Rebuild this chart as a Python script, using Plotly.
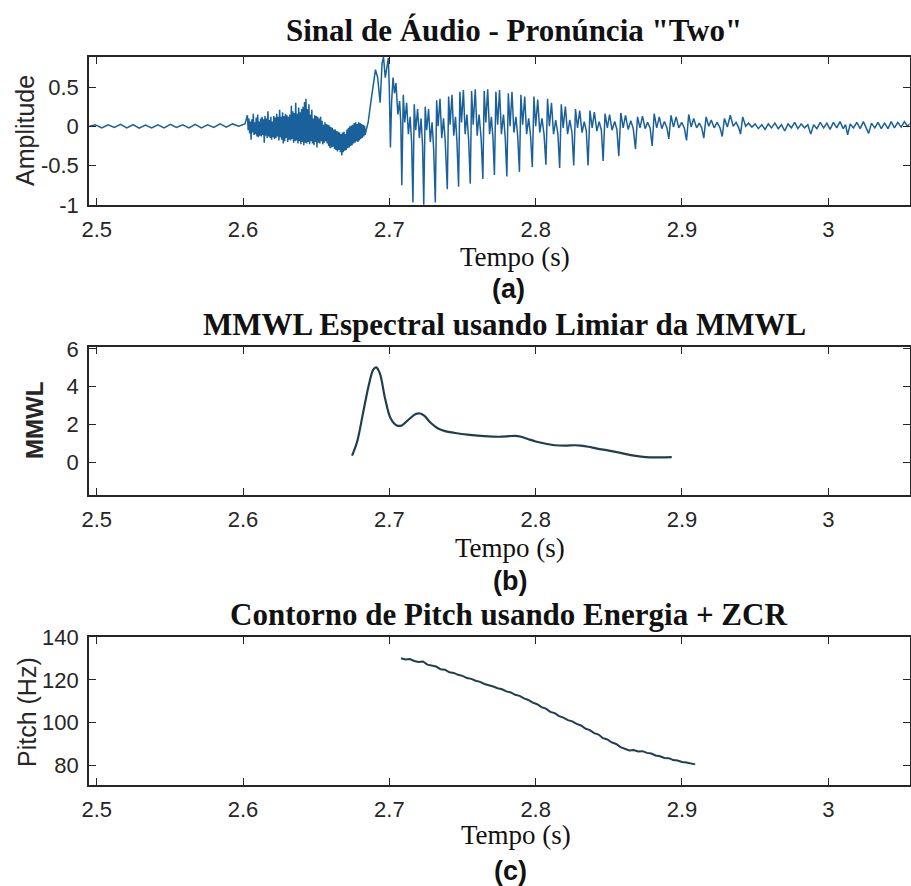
import plotly.graph_objects as go

# ---------------------------------------------------------------------------
# (a) Audio signal, vertices of the waveform (time in s, normalised amplitude)
# ---------------------------------------------------------------------------
pre_t = [2.4950, 2.4990, 2.5035, 2.5078, 2.5120, 2.5163, 2.5205, 2.5248, 2.5290,
         2.5333, 2.5375, 2.5418, 2.5460, 2.5503, 2.5545, 2.5588, 2.5630, 2.5673,
         2.5715, 2.5758, 2.5800, 2.5843, 2.5885, 2.5928, 2.5970, 2.6013]
pre_a = [0.00, 0.02, -0.02, 0.02, -0.015, 0.025, -0.02, 0.02, -0.025,
         0.015, -0.02, 0.02, -0.02, 0.025, -0.015, 0.02, -0.02, 0.025,
         -0.02, 0.02, -0.015, 0.03, -0.01, 0.03, 0.00, 0.03]

# unvoiced burst of "t": dense noise between 2.603 s and 2.684 s
burst_t = [2.6030, 2.6035, 2.6040, 2.6045, 2.6050, 2.6055, 2.6060, 2.6065, 2.6070, 2.6075,
           2.6080, 2.6085, 2.6090, 2.6095, 2.6100, 2.6105, 2.6110, 2.6115, 2.6120, 2.6125,
           2.6130, 2.6135, 2.6140, 2.6145, 2.6150, 2.6155, 2.6160, 2.6165, 2.6170, 2.6175,
           2.6180, 2.6185, 2.6190, 2.6195, 2.6200, 2.6205, 2.6210, 2.6215, 2.6220, 2.6225,
           2.6230, 2.6235, 2.6240, 2.6245, 2.6250, 2.6255, 2.6260, 2.6265, 2.6270, 2.6275,
           2.6280, 2.6285, 2.6290, 2.6295, 2.6300, 2.6305, 2.6310, 2.6315, 2.6320, 2.6325,
           2.6330, 2.6335, 2.6340, 2.6345, 2.6350, 2.6355, 2.6360, 2.6365, 2.6370, 2.6375,
           2.6380, 2.6385, 2.6390, 2.6395, 2.6400, 2.6405, 2.6410, 2.6415, 2.6420, 2.6425,
           2.6430, 2.6435, 2.6440, 2.6445, 2.6450, 2.6455, 2.6460, 2.6465, 2.6470, 2.6475,
           2.6480, 2.6485, 2.6490, 2.6495, 2.6500, 2.6505, 2.6510, 2.6515, 2.6520, 2.6525,
           2.6530, 2.6535, 2.6540, 2.6545, 2.6550, 2.6555, 2.6560, 2.6565, 2.6570, 2.6575,
           2.6580, 2.6585, 2.6590, 2.6595, 2.6600, 2.6605, 2.6610, 2.6615, 2.6620, 2.6625,
           2.6630, 2.6635, 2.6640, 2.6645, 2.6650, 2.6655, 2.6660, 2.6665, 2.6670, 2.6675,
           2.6680, 2.6685, 2.6690, 2.6695, 2.6700, 2.6705, 2.6710, 2.6715, 2.6720, 2.6725,
           2.6730, 2.6735, 2.6740, 2.6745, 2.6750, 2.6755, 2.6760, 2.6765, 2.6770, 2.6775,
           2.6780, 2.6785, 2.6790, 2.6795, 2.6800, 2.6805, 2.6810, 2.6815, 2.6820, 2.6825,
           2.6830, 2.6835, 2.6840]
burst_a = [0.14, -0.05, 0.10, -0.09, 0.06, -0.17, 0.09, -0.08, 0.16, -0.11,
           0.05, -0.10, 0.11, -0.13, 0.15, -0.14, 0.06, -0.12, 0.10, -0.13,
           0.12, -0.11, 0.09, -0.21, 0.13, -0.12, 0.10, -0.15, 0.19, -0.13,
           0.08, -0.15, 0.12, -0.17, 0.06, -0.14, 0.13, -0.16, 0.11, -0.15,
           0.16, -0.13, 0.12, -0.18, 0.21, -0.14, 0.12, -0.17, 0.18, -0.22,
           0.13, -0.19, 0.16, -0.15, 0.14, -0.20, 0.12, -0.17, 0.15, -0.18,
           0.26, -0.16, 0.19, -0.21, 0.17, -0.19, 0.30, -0.18, 0.16, -0.22,
           0.24, -0.19, 0.18, -0.23, 0.22, -0.20, 0.25, -0.24, 0.31, -0.21,
           0.35, -0.22, 0.22, -0.20, 0.28, -0.23, 0.15, -0.19, 0.21, -0.22,
           0.10, -0.24, 0.14, -0.20, 0.13, -0.27, 0.12, -0.21, 0.10, -0.22,
           0.12, -0.19, 0.07, -0.23, 0.02, -0.21, 0.05, -0.19, 0.03, -0.22,
           0.02, -0.25, 0.01, -0.28, -0.01, -0.27, -0.02, -0.26, -0.04, -0.29,
           -0.04, -0.30, -0.06, -0.32, -0.07, -0.30, -0.08, -0.33, -0.10, -0.37,
           -0.08, -0.33, -0.07, -0.31, -0.10, -0.30, -0.04, -0.28, -0.02, -0.27,
           0.00, -0.25, 0.01, -0.24, 0.02, -0.22, 0.04, -0.21, 0.05, -0.19,
           0.03, -0.20, 0.05, -0.18, 0.04, -0.16, 0.03, -0.15, 0.02, -0.13,
           0.01, -0.11, -0.06]

# voiced part: glottal periods (deep negative spike, two positive peaks)
voiced_t = [2.6855, 2.6875, 2.6890, 2.6905, 2.6920, 2.6937, 2.6950, 2.6960, 2.6972,
            2.6982, 2.6993, 2.7000,
            2.7007, 2.7015, 2.7025, 2.7035, 2.7045, 2.7058, 2.7070, 2.7078,
            2.7085, 2.7095, 2.7105, 2.7118, 2.7130, 2.7142, 2.7152,
            2.7161, 2.7170, 2.7180, 2.7193, 2.7205, 2.7217, 2.7227,
            2.7235, 2.7245, 2.7255, 2.7268, 2.7280, 2.7292, 2.7303,
            2.7314, 2.7323, 2.7333, 2.7346, 2.7358, 2.7370, 2.7382,
            2.7396, 2.7405, 2.7415, 2.7428, 2.7440, 2.7452, 2.7462,
            2.7473, 2.7482, 2.7493, 2.7506, 2.7518, 2.7530, 2.7542,
            2.7553, 2.7562, 2.7573, 2.7587, 2.7600, 2.7613, 2.7627,
            2.7639, 2.7648, 2.7659, 2.7672, 2.7685, 2.7697, 2.7708,
            2.7718, 2.7728, 2.7740, 2.7753, 2.7766, 2.7780, 2.7792,
            2.7803, 2.7813, 2.7825, 2.7838, 2.7851, 2.7865, 2.7877,
            2.7889, 2.7899, 2.7911, 2.7925, 2.7938, 2.7952, 2.7965,
            2.7977, 2.7988, 2.8000, 2.8014, 2.8028, 2.8043, 2.8057,
            2.8070, 2.8081, 2.8094, 2.8108, 2.8122, 2.8137, 2.8152,
            2.8164, 2.8175, 2.8188, 2.8203, 2.8218, 2.8233, 2.8248,
            2.8260, 2.8272, 2.8286, 2.8301, 2.8317, 2.8332, 2.8346,
            2.8358, 2.8371, 2.8386, 2.8401, 2.8418, 2.8434, 2.8449,
            2.8461, 2.8474, 2.8490, 2.8505, 2.8522, 2.8540, 2.8555,
            2.8568, 2.8582, 2.8598, 2.8614, 2.8632, 2.8650, 2.8667,
            2.8682, 2.8696, 2.8713, 2.8730, 2.8748, 2.8765, 2.8782,
            2.8796, 2.8810, 2.8827, 2.8845, 2.8862, 2.8880, 2.8897,
            2.8910, 2.8925, 2.8942, 2.8960, 2.8978, 2.8998, 2.9016,
            2.9031, 2.9046, 2.9063, 2.9080, 2.9100, 2.9118, 2.9135,
            2.9149, 2.9165, 2.9183, 2.9200, 2.9220, 2.9240, 2.9260,
            2.9275, 2.9290, 2.9310, 2.9330, 2.9350, 2.9370, 2.9388,
            2.9400, 2.9415, 2.9435]
voiced_a = [0.05, 0.33, 0.55, 0.72, 0.62, 0.30, 0.80, 0.88, 0.62,
            0.75, 0.87, 0.45,
            -0.27, 0.30, 0.62, 0.42, 0.55, 0.15, 0.32, 0.05,
            -0.75, 0.40, 0.05, 0.30, -0.10, 0.12, -0.20,
            -0.97, 0.28, -0.05, 0.22, -0.15, 0.10, -0.25,
            -1.00, 0.25, -0.05, 0.22, -0.20, 0.05, -0.30,
            -0.97, 0.33, 0.00, 0.35, -0.15, 0.10, -0.20,
            -0.80, 0.38, 0.02, 0.40, -0.12, 0.12, -0.20,
            -0.77, 0.44, 0.05, 0.46, -0.10, 0.15, -0.18,
            -0.73, 0.45, 0.02, 0.47, -0.12, 0.15, -0.15,
            -0.67, 0.45, 0.05, 0.47, -0.10, 0.12, -0.15,
            -0.62, 0.44, 0.02, 0.46, -0.10, 0.15, -0.15,
            -0.64, 0.42, 0.00, 0.44, -0.08, 0.12, -0.12,
            -0.58, 0.40, 0.02, 0.38, -0.10, 0.10, -0.12,
            -0.52, 0.38, 0.00, 0.34, -0.08, 0.10, -0.10,
            -0.49, 0.35, 0.00, 0.30, -0.10, 0.08, -0.10,
            -0.53, 0.28, -0.02, 0.25, -0.10, 0.08, -0.08,
            -0.50, 0.22, -0.02, 0.20, -0.08, 0.06, -0.06,
            -0.50, 0.20, -0.02, 0.18, -0.06, 0.06, -0.05,
            -0.44, 0.16, -0.02, 0.15, -0.05, 0.06, -0.04,
            -0.38, 0.17, -0.02, 0.14, -0.04, 0.07, -0.03,
            -0.29, 0.12, -0.02, 0.13, -0.03, 0.05, -0.02,
            -0.25, 0.16, -0.02, 0.12, -0.03, 0.06, -0.02,
            -0.16, 0.14, -0.01, 0.12, -0.02, 0.05, -0.02,
            -0.18, 0.15, -0.01, 0.10, -0.02, 0.04, -0.02,
            -0.15, 0.12, 0.00, 0.08, -0.02, 0.05, -0.02,
            -0.13, 0.10, -0.01, 0.14, 0.00, 0.05, -0.02,
            -0.10, 0.12, 0.00]

tail_t = [2.9455, 2.9478, 2.9500, 2.9522, 2.9545, 2.9568, 2.9590, 2.9612, 2.9635,
          2.9658, 2.9680, 2.9702, 2.9725, 2.9748, 2.9770, 2.9792, 2.9815, 2.9838,
          2.9860, 2.9880, 2.9900, 2.9922, 2.9945, 2.9968, 2.9990, 3.0012, 3.0035,
          3.0058, 3.0080, 3.0102, 3.0118, 3.0132, 3.0150, 3.0172, 3.0195, 3.0218,
          3.0240, 3.0260, 3.0276, 3.0295, 3.0318, 3.0340, 3.0362, 3.0385, 3.0408,
          3.0430, 3.0452, 3.0475, 3.0498, 3.0520, 3.0542, 3.0560]
tail_a = [0.04, -0.01, 0.03, -0.03, 0.02, -0.04, 0.03, -0.02, 0.04,
          -0.03, 0.02, -0.06, 0.03, -0.02, 0.05, -0.03, 0.03, -0.02,
          0.02, -0.10, 0.02, -0.03, 0.05, -0.02, 0.04, -0.04, 0.05,
          -0.02, 0.06, -0.03, 0.02, -0.11, 0.03, -0.02, 0.05, -0.03,
          0.06, -0.02, -0.09, 0.04, -0.02, 0.05, -0.03, 0.04, -0.03,
          0.06, -0.02, 0.05, -0.01, 0.06, 0.00, 0.04]

# ---------------------------------------------------------------------------
# (b) Spectral MMWL
# ---------------------------------------------------------------------------
mmwl_t = [2.6745, 2.6780, 2.6820, 2.6860, 2.6890, 2.6910, 2.6935, 2.6970, 2.7010,
          2.7050, 2.7085, 2.7130, 2.7180, 2.7210, 2.7240, 2.7280, 2.7330, 2.7380,
          2.7450, 2.7550, 2.7650, 2.7750, 2.7820, 2.7860, 2.7900, 2.7950, 2.8000,
          2.8070, 2.8130, 2.8200, 2.8270, 2.8310, 2.8360, 2.8420, 2.8500, 2.8580,
          2.8650, 2.8720, 2.8780, 2.8850, 2.8930]
mmwl_v = [0.35, 1.10, 2.60, 4.10, 4.90, 5.02, 4.70, 3.40, 2.30,
          1.95, 1.95, 2.25, 2.55, 2.58, 2.45, 2.10, 1.80, 1.65,
          1.55, 1.45, 1.38, 1.35, 1.38, 1.40, 1.35, 1.22, 1.10,
          0.98, 0.90, 0.88, 0.90, 0.88, 0.82, 0.72, 0.62, 0.50,
          0.38, 0.30, 0.26, 0.26, 0.27]

# ---------------------------------------------------------------------------
# (c) Pitch contour (Energy + ZCR)
# ---------------------------------------------------------------------------
pitch_t = [2.708, 2.711, 2.714, 2.717, 2.720, 2.723, 2.726, 2.729, 2.732, 2.735,
           2.738, 2.741, 2.744, 2.747, 2.750, 2.753, 2.756, 2.759, 2.762, 2.765,
           2.768, 2.771, 2.774, 2.777, 2.780, 2.783, 2.786, 2.789, 2.792, 2.795,
           2.798, 2.801, 2.804, 2.807, 2.810, 2.813, 2.816, 2.819, 2.822, 2.825,
           2.828, 2.831, 2.834, 2.837, 2.840, 2.843, 2.846, 2.849, 2.852, 2.855,
           2.858, 2.861, 2.864, 2.867, 2.870, 2.873, 2.876, 2.879, 2.882, 2.885,
           2.888, 2.891, 2.894, 2.897, 2.900, 2.903, 2.906, 2.909]
pitch_hz = [130.2, 129.6, 129.8, 128.9, 128.4, 128.7, 127.2, 126.6, 126.3, 125.0,
            124.8, 123.6, 123.3, 122.4, 121.9, 120.9, 120.5, 119.6, 119.1, 118.1,
            117.6, 116.9, 116.1, 115.6, 114.6, 114.1, 113.0, 112.5, 111.3, 110.6,
            109.3, 108.6, 107.2, 106.5, 105.0, 104.4, 103.0, 102.3, 101.1, 100.5,
            99.3, 98.6, 97.1, 96.4, 95.0, 94.3, 92.6, 92.0, 90.6, 89.9,
            88.4, 87.6, 86.8, 87.0, 86.4, 86.5, 85.7, 85.4, 84.5, 84.1,
            83.3, 83.2, 82.3, 82.1, 81.4, 81.2, 80.6, 80.3]

# Tick labels
time_ticks = [2.5, 2.6, 2.7, 2.8, 2.9, 3.0]
time_tick_text = ["2.5", "2.6", "2.7", "2.8", "2.9", "3"]
amp_ticks = [-1, -0.5, 0, 0.5]
amp_tick_text = ["-1", "-0.5", "0", "0.5"]
mmwl_ticks = [0, 2, 4, 6]
pitch_ticks = [80, 100, 120, 140]

# ---------------------------------------------------------------------------
W, H = 911, 886


def px_x(p):
    return p / W


def px_y(p):
    return 1 - p / H


wave_t = pre_t + burst_t + voiced_t + tail_t
wave_a = pre_a + burst_a + voiced_a + tail_a

fig = go.Figure()
fig.add_trace(go.Scatter(x=wave_t, y=wave_a, mode="lines",
                         line=dict(color="#1a609a", width=1.5),
                         xaxis="x", yaxis="y"))
fig.add_trace(go.Scatter(x=mmwl_t, y=mmwl_v, mode="lines",
                         line=dict(color="#1f3f4f", width=2.2, shape="spline"),
                         xaxis="x2", yaxis="y2"))
fig.add_trace(go.Scatter(x=pitch_t, y=pitch_hz, mode="lines",
                         line=dict(color="#1f3f4f", width=2.0),
                         xaxis="x3", yaxis="y3"))

AX = "#262626"
tick_font = dict(family="Liberation Sans, Arial, sans-serif", size=22, color=AX)
x_dom = [px_x(89), px_x(909.5)]


def xaxis(anchor):
    return dict(domain=x_dom, anchor=anchor, range=[2.4947, 3.0555],
                tickmode="array", tickvals=time_ticks, ticktext=time_tick_text,
                ticks="inside", ticklen=7, tickwidth=1.3, tickcolor=AX,
                showline=True, linecolor=AX, linewidth=1.6, mirror="ticks",
                showgrid=False, zeroline=False, tickfont=tick_font,
                ticklabelstandoff=4, automargin=False, fixedrange=True)


def yaxis(anchor, dom, rng, vals, text=None):
    d = dict(domain=dom, anchor=anchor, range=rng,
             tickmode="array", tickvals=vals,
             ticks="inside", ticklen=7, tickwidth=1.3, tickcolor=AX,
             showline=True, linecolor=AX, linewidth=1.6, mirror="ticks",
             showgrid=False, zeroline=False, tickfont=tick_font,
             ticklabelstandoff=4, automargin=False, fixedrange=True)
    if text is not None:
        d["ticktext"] = text
    return d


serif_bold = dict(family="Liberation Serif, Times New Roman, serif", size=31, color="#111111")
serif = dict(family="Liberation Serif, Times New Roman, serif", size=27, color="#111111")
sans_lbl = dict(family="Liberation Sans, Arial, sans-serif", size=25, color=AX)
sans_bold_lbl = dict(family="Liberation Sans, Arial, sans-serif", size=24, color=AX)
sans_bold = dict(family="Liberation Sans, Arial, sans-serif", size=27, color="#111111")


def note(text, x, y, font, angle=0):
    return dict(text=text, x=px_x(x), y=px_y(y), xref="paper", yref="paper",
                xanchor="center", yanchor="middle", showarrow=False,
                font=font, textangle=angle)


annotations = [
    note("<b>Sinal de Áudio - Pronúncia \"Two\"</b>", 514, 30, serif_bold),
    note("<b>MMWL Espectral usando Limiar da MMWL</b>", 504, 324, serif_bold),
    note("<b>Contorno de Pitch usando Energia + ZCR</b>", 508, 614, serif_bold),
    note("Tempo (s)", 515, 257, serif),
    note("Tempo (s)", 510, 548, serif),
    note("Tempo (s)", 516, 835, serif),
    note("<b>(a)</b>", 508, 289, sans_bold),
    note("<b>(b)</b>", 510, 581, sans_bold),
    note("<b>(c)</b>", 510, 871, sans_bold),
    note("Amplitude", 25, 131, sans_lbl, -90),
    note("<b>MMWL</b>", 35, 421, sans_bold_lbl, -90),
    note("Pitch (Hz)", 27, 712, sans_lbl, -90),
]

fig.update_layout(
    width=W, height=H,
    margin=dict(l=0, r=0, t=0, b=0),
    paper_bgcolor="white", plot_bgcolor="white",
    showlegend=False,
    xaxis=xaxis("y"),
    yaxis=yaxis("x", [px_y(205), px_y(57)], [-1.002, 0.882], amp_ticks, amp_tick_text),
    xaxis2=xaxis("y2"),
    yaxis2=yaxis("x2", [px_y(495), px_y(347.3)], [-1.73, 6.08], mmwl_ticks),
    xaxis3=xaxis("y3"),
    yaxis3=yaxis("x3", [px_y(785), px_y(637.3)], [70.6, 140.05], pitch_ticks),
    annotations=annotations,
)

fig.write_html("out.html")
